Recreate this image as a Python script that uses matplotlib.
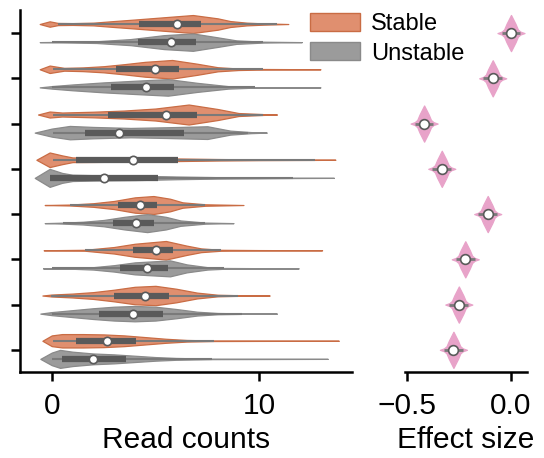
import numpy as np
import matplotlib.pyplot as plt
from matplotlib.patches import Patch

plt.rcParams['font.family'] = ['Liberation Sans', 'DejaVu Sans']
plt.rcParams['axes.linewidth'] = 1.8

# ---- read counts, Stable (upper violin of each row) ----
stable_med = [6.02, 4.96, 5.49, 3.90, 4.27, 5.03, 4.49, 2.64]
stable_q1 = [4.22, 3.10, 2.69, 1.19, 3.17, 3.93, 3.01, 1.19]
stable_q3 = [7.20, 6.15, 7.02, 6.07, 5.09, 5.86, 5.65, 4.06]
stable_wlo = [0.31, 0.06, 0.06, 0.06, 0.87, 1.59, -0.02, 0.06]
stable_whi = [10.85, 10.2, 10.2, 12.7, 7.39, 8.15, 9.0, 7.8]
stable_grid = [
    [-0.58, -0.1, 0.3, 1.0, 2.0, 3.0, 4.0, 5.4, 6.8, 8.0, 8.6, 9.4, 10.2, 11.4],
    [-0.58, -0.1, 0.6, 1.5, 2.5, 3.5, 4.5, 5.8, 7.0, 8.0, 9.0, 10.2, 12.95],
    [-0.66, -0.1, 0.5, 2.0, 3.5, 5.0, 6.6, 8.0, 9.0, 10.2, 10.85],
    [-0.74, -0.1, 0.5, 1.0, 2.0, 4.0, 6.0, 8.0, 10.0, 12.7, 13.67],
    [-0.34, 0.87, 2.0, 3.0, 4.0, 4.9, 5.7, 6.3, 7.4, 9.24],
    [-0.39, 1.6, 3.0, 4.0, 5.5, 6.5, 7.2, 8.15, 10.0, 13.03],
    [-0.45, 0.0, 1.0, 2.0, 3.0, 4.0, 5.0, 6.0, 7.0, 8.0, 9.0, 10.5],
    [-0.45, 0.0, 0.5, 1.5, 2.5, 3.5, 4.5, 5.5, 6.5, 7.8, 10.0, 13.83],
]
stable_dens = [
    [0, 0.3, 0.12, 0.1, 0.15, 0.33, 0.5, 0.75, 1.0, 0.63, 0.33, 0.15, 0.07, 0],
    [0, 0.4, 0.15, 0.2, 0.33, 0.55, 0.8, 1.0, 0.6, 0.22, 0.08, 0.03, 0],
    [0, 0.3, 0.2, 0.28, 0.4, 0.6, 1.0, 0.55, 0.15, 0.04, 0],
    [0, 1.0, 0.6, 0.32, 0.3, 0.25, 0.18, 0.1, 0.05, 0.02, 0],
    [0, 0.05, 0.2, 0.45, 0.85, 1.0, 0.7, 0.3, 0.08, 0],
    [0, 0.05, 0.35, 0.7, 1.0, 0.5, 0.2, 0.05, 0.02, 0],
    [0, 0.1, 0.2, 0.35, 0.6, 0.9, 1.0, 0.7, 0.3, 0.08, 0.03, 0],
    [0, 0.8, 1.0, 1.0, 0.95, 0.8, 0.55, 0.3, 0.12, 0.04, 0.02, 0],
]
stable_halfpx = [9, 9.3, 10, 7.3, 9, 9.3, 9.7, 6.7]

# ---- read counts, Unstable (lower violin of each row) ----
unstable_med = [5.73, 4.56, 3.24, 2.53, 4.05, 4.59, 3.90, 2.00]
unstable_q1 = [4.17, 2.85, 1.60, -0.10, 2.93, 3.28, 2.29, 0.47]
unstable_q3 = [6.96, 5.90, 6.38, 5.10, 4.94, 5.59, 5.35, 3.60]
unstable_wlo = [0.0, 0.0, 0.06, -0.1, 0.55, 0.0, 0.0, 0.0]
unstable_whi = [10.2, 9.8, 9.48, 11.65, 7.39, 8.28, 9.16, 7.7]
unstable_grid = [
    [-0.58, 1.0, 2.16, 3.8, 5.4, 6.8, 8.0, 8.9, 10.2, 12.05],
    [-0.58, 0.0, 1.0, 2.5, 4.0, 5.6, 7.0, 8.5, 9.8, 12.95],
    [-0.82, 0.0, 0.87, 2.0, 3.8, 5.5, 7.5, 8.6, 9.6, 10.36],
    [-0.82, -0.1, 0.5, 1.0, 2.0, 4.0, 6.0, 8.0, 10.0, 11.65, 13.6],
    [-0.34, 0.5, 1.5, 2.5, 3.5, 4.6, 5.5, 6.2, 7.4, 8.76],
    [-0.42, 1.0, 2.0, 3.0, 4.0, 5.7, 6.5, 7.5, 8.3, 11.9],
    [-0.55, 0.0, 1.0, 2.0, 3.0, 4.0, 5.0, 6.0, 7.0, 8.0, 9.2, 10.85],
    [-0.55, 0.0, 0.4, 1.0, 2.0, 3.0, 4.0, 5.0, 6.0, 7.7, 10.0, 13.3],
]
unstable_dens = [
    [0, 0.05, 0.1, 0.35, 0.8, 1.0, 0.55, 0.2, 0.05, 0],
    [0, 0.15, 0.35, 0.6, 0.8, 1.0, 0.55, 0.15, 0.03, 0],
    [0, 0.6, 1.0, 0.85, 0.7, 0.8, 0.95, 0.3, 0.08, 0],
    [0, 1.0, 0.55, 0.35, 0.3, 0.25, 0.15, 0.08, 0.05, 0.02, 0],
    [0, 0.05, 0.15, 0.35, 0.7, 1.0, 0.7, 0.3, 0.06, 0],
    [0, 0.05, 0.15, 0.4, 0.75, 1.0, 0.5, 0.15, 0.05, 0],
    [0, 0.2, 0.45, 0.7, 0.9, 1.0, 0.9, 0.6, 0.25, 0.08, 0.03, 0],
    [0, 0.7, 1.0, 0.8, 0.6, 0.5, 0.35, 0.2, 0.1, 0.03, 0.02, 0],
]
unstable_halfpx = [8.7, 8.3, 6.7, 9, 9, 8, 7.7, 9]

# ---- effect size ----
eff_med = [0.0, -0.088, -0.418, -0.333, -0.112, -0.22, -0.251, -0.277]
eff_q1 = [-0.015, -0.103, -0.433, -0.348, -0.127, -0.235, -0.266, -0.292]
eff_q3 = [0.015, -0.073, -0.403, -0.318, -0.097, -0.205, -0.236, -0.262]
eff_wlo = [-0.045, -0.133, -0.463, -0.378, -0.157, -0.265, -0.296, -0.322]
eff_whi = [0.045, -0.043, -0.373, -0.288, -0.067, -0.175, -0.206, -0.232]
# shared kde shape around each median
eff_offsets = [-0.065, -0.045, -0.033, -0.022, -0.011, 0.0, 0.011, 0.022, 0.033, 0.045, 0.065]
eff_shape = [0, 0.08, 0.2, 0.5, 0.75, 1.0, 0.75, 0.5, 0.2, 0.08, 0]

ORANGE, ORANGE_EDGE = '#e08f6f', '#c96c44'
GREY, GREY_EDGE = '#9b9b9b', '#8a8a8a'
PINK = '#e8a3c9'
BOX_C, WHISK_C = '#5a5a5a', '#7a7a7a'
PX_PER_ROW = 45.3
OFFSET = 0.2


def draw_violin(ax, pos, grid, dens, width, q1, med, q3, wlo, whi,
                face, edge, box_lw=4.5, whisk_lw=1.5, ms=6):
    stats = [dict(coords=np.array(grid), vals=np.array(dens, dtype=float),
                  mean=med, median=med, min=grid[0], max=grid[-1])]
    parts = ax.violin(stats, positions=[pos], orientation='horizontal',
                      widths=width, showmeans=False, showextrema=False,
                      showmedians=False)
    for b in parts['bodies']:
        b.set_facecolor(face)
        b.set_edgecolor(edge)
        b.set_alpha(1)
        b.set_linewidth(0.9)
    ax.plot([wlo, whi], [pos, pos], color=WHISK_C, lw=whisk_lw,
            solid_capstyle='butt', zorder=3)
    ax.plot([q1, q3], [pos, pos], color=BOX_C, lw=box_lw,
            solid_capstyle='butt', zorder=3)
    ax.plot([med], [pos], 'o', ms=ms, mfc='white', mec=BOX_C, mew=1.2,
            zorder=4)


fig = plt.figure(figsize=(5.44, 4.58), dpi=100)
ax = fig.add_axes([20 / 544, 86 / 458, 332 / 544, 362 / 458])
ax2 = fig.add_axes([405 / 544, 86 / 458, 122 / 544, 362 / 458])

for i in range(8):
    draw_violin(ax, i - OFFSET, stable_grid[i], stable_dens[i],
                2 * stable_halfpx[i] / PX_PER_ROW,
                stable_q1[i], stable_med[i], stable_q3[i],
                stable_wlo[i], stable_whi[i], ORANGE, ORANGE_EDGE)
    draw_violin(ax, i + OFFSET, unstable_grid[i], unstable_dens[i],
                2 * unstable_halfpx[i] / PX_PER_ROW,
                unstable_q1[i], unstable_med[i], unstable_q3[i],
                unstable_wlo[i], unstable_whi[i], GREY, GREY_EDGE)
    grid = [eff_med[i] + o for o in eff_offsets]
    draw_violin(ax2, i, grid, eff_shape, 0.8,
                eff_q1[i], eff_med[i], eff_q3[i], eff_wlo[i], eff_whi[i],
                PINK, PINK, box_lw=3, whisk_lw=2, ms=7)

ax.set_xlim(-1.53, 14.47)
ax.set_ylim(7.49, -0.51)
ax.set_xticks([0, 10])
ax.set_yticks(range(8))
ax.set_yticklabels([])
ax.set_xlabel('Read counts', fontsize=21.5, labelpad=4)
ax.spines[['top', 'right']].set_visible(False)
ax.tick_params(labelsize=21.5, length=6.5, width=1.8, pad=8)

ax2.set_xlim(-0.51, 0.077)
ax2.set_ylim(7.49, -0.51)
ax2.set_xticks([-0.5, 0.0])
ax2.set_yticks([])
ax2.set_xlabel('Effect size', fontsize=21.5, labelpad=4)
ax2.spines[['top', 'right', 'left']].set_visible(False)
ax2.tick_params(labelsize=21.5, length=6.5, width=1.8, pad=8)

handles = [Patch(facecolor=ORANGE, edgecolor=ORANGE_EDGE, label='Stable'),
           Patch(facecolor=GREY, edgecolor=GREY_EDGE, label='Unstable')]
fig.legend(handles=handles, loc='upper left',
           bbox_to_anchor=(310 / 544, 1 - 13 / 458), frameon=False,
           fontsize=17, handlelength=2.1, handleheight=0.8,
           handletextpad=0.5, labelspacing=0.3, borderpad=0,
           borderaxespad=0)

fig.savefig('out.png', dpi=100)
